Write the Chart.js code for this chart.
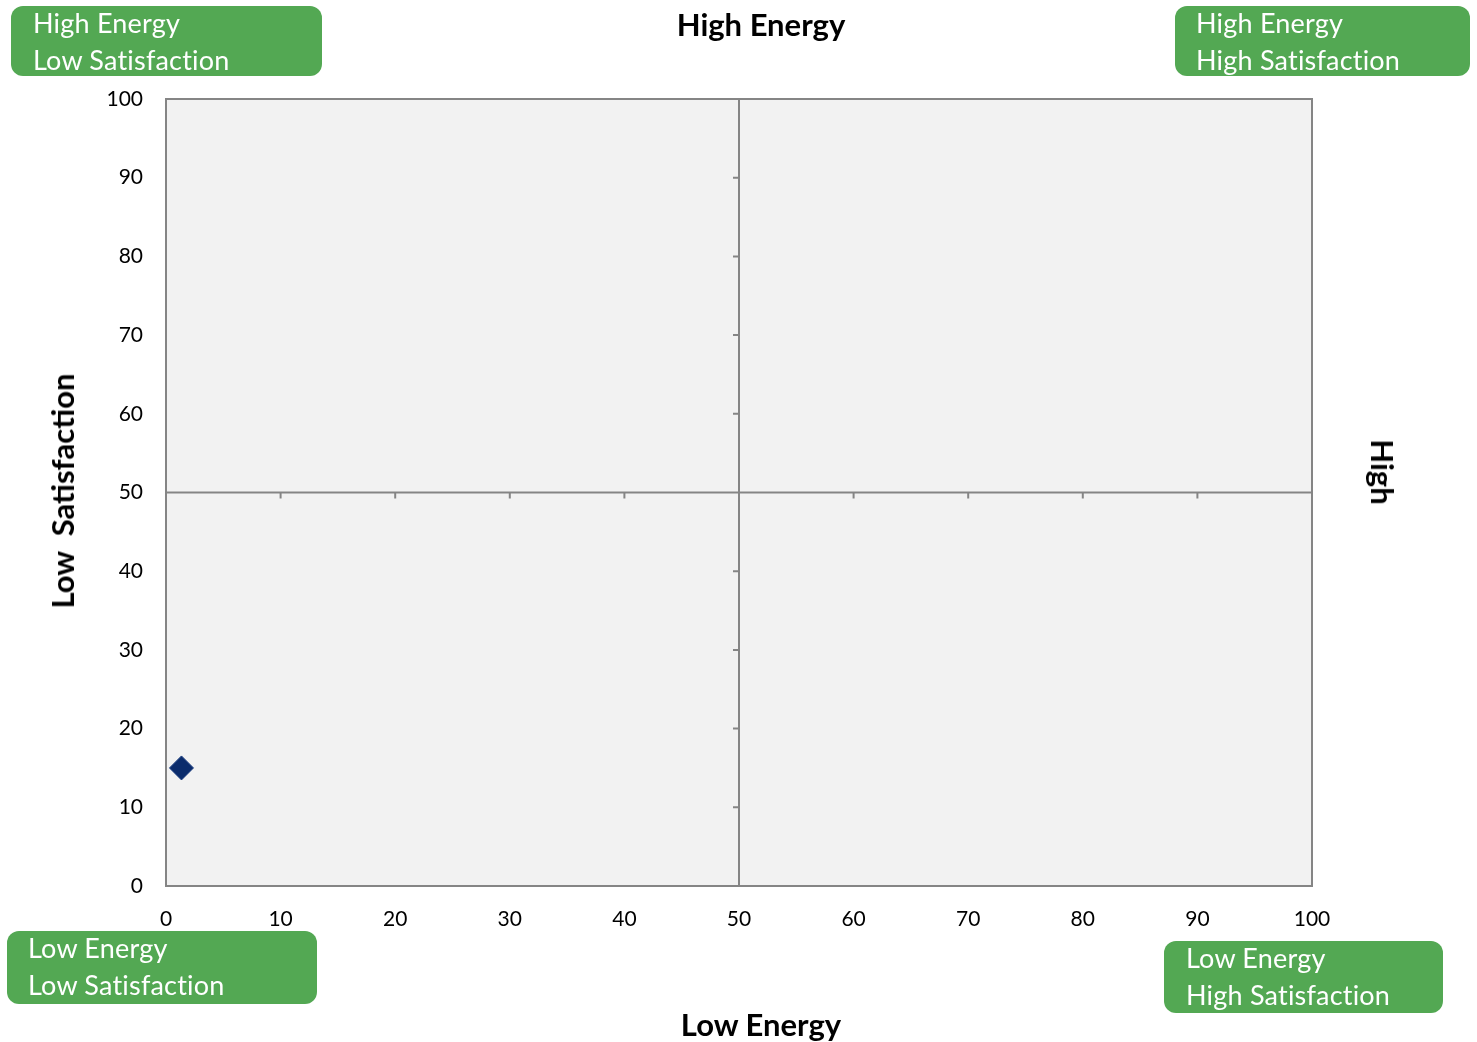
<!DOCTYPE html>
<html>
<head>
<meta charset="utf-8">
<script src="https://cdn.jsdelivr.net/npm/chart.js@4.4.1/dist/chart.umd.min.js"></script>
<style>
  body { margin: 0; background: #fff; }
  #wrap { position: relative; width: 1477px; height: 1042px; font-family: Lato, "Open Sans", sans-serif; }
  #wrap canvas { position: absolute; left: 0; top: 0; }
  .ttl { position: absolute; font-weight: bold; font-size: 31px; color: #000; white-space: pre; transform: translate(-50%, -50%); }
  .box { position: absolute; background: #53a853; border-radius: 12px; color: #fff; font-size: 27px; line-height: 37px; letter-spacing: 0.2px; box-sizing: border-box; white-space: nowrap; }
  .box span { position: relative; top: -2px; }
</style>
</head>
<body>
<div id="wrap">
  <canvas id="quadChart" width="1477" height="1042"></canvas>
</div>
<script>
// data
var pointNames = ['Response'];
var energyVals = [1.35];
var satisfactionVals = [15];
var axisMin = 0
var axisMax = 100
var tickStep = 10
var midValue = 50

var topTitle = 'High Energy'
var bottomTitle = 'Low Energy'
var leftTitle = 'Low  Satisfaction'
var rightTitle = 'High'
var quadrantLabels = [
    ['High Energy', 'Low Satisfaction'],
    ['High Energy', 'High Satisfaction'],
    ['Low Energy', 'Low Satisfaction'],
    ['Low Energy', 'High Satisfaction']
];

var wrap = document.getElementById('wrap')

// titles and green corner boxes (html overlays)
function addTitle(text, x, y, rot) {
    var d = document.createElement('div')
    d.className = 'ttl'
    d.textContent = text
    d.style.left = x + 'px'
    d.style.top = y + 'px'
    if (rot) d.style.transform = 'translate(-50%, -50%) rotate(' + rot + 'deg)'
    wrap.appendChild(d)
}
addTitle(topTitle, 761, 24, 0)
addTitle(bottomTitle, 761, 1024, 0)
addTitle(leftTitle, 62, 491, -90)
addTitle(rightTitle, 1383, 472, 90)

var boxPos = [
    {l: 11, t: 6, w: 311, h: 70, pl: 22},
    {l: 1175, t: 6, w: 295, h: 70, pl: 21},
    {l: 7, t: 931, w: 310, h: 73, pl: 21},
    {l: 1164, t: 941, w: 279, h: 72, pl: 22}
];
for (var i = 0; i < quadrantLabels.length; i++) {
    var b = document.createElement('div')
    b.className = 'box'
    b.style.left = boxPos[i].l + 'px'
    b.style.top = boxPos[i].t + 'px'
    b.style.width = boxPos[i].w + 'px'
    b.style.height = boxPos[i].h + 'px'
    b.style.paddingLeft = boxPos[i].pl + 'px'
    var s = document.createElement('span')
    s.innerHTML = quadrantLabels[i].join('<br>')
    b.appendChild(s)
    wrap.appendChild(b)
}

var points = []
for (var i = 0; i < energyVals.length; i++) {
    points.push({x: energyVals[i], y: satisfactionVals[i]})
}

// plot background, border and the crossing lines at 50
var quadPlugin = {
    id: 'quadPlugin',
    beforeDatasetsDraw: function (chart) {
        var ctx = chart.ctx
        var a = chart.chartArea
        var xs = chart.scales.x
        var ys = chart.scales.y
        ctx.save()
        ctx.fillStyle = '#f2f2f2'
        ctx.fillRect(a.left, a.top, a.right - a.left, a.bottom - a.top)
        ctx.strokeStyle = '#858585'
        ctx.lineWidth = 2
        ctx.strokeRect(a.left, a.top, a.right - a.left, a.bottom - a.top)
        var mx = xs.getPixelForValue(midValue)
        var my = ys.getPixelForValue(midValue)
        ctx.beginPath()
        ctx.moveTo(mx, a.top); ctx.lineTo(mx, a.bottom)
        ctx.moveTo(a.left, my); ctx.lineTo(a.right, my)
        for (var v = axisMin + tickStep; v < axisMax; v += tickStep) {
            var px = xs.getPixelForValue(v)
            ctx.moveTo(px, my); ctx.lineTo(px, my + 6)
            var py = ys.getPixelForValue(v)
            ctx.moveTo(mx, py); ctx.lineTo(mx - 6, py)
        }
        ctx.stroke()
        ctx.restore()
    }
}

var chart = document.getElementById('quadChart')
var quadChart = new Chart(chart, {
    type: 'scatter',
    data: {
        datasets: [{
            label: pointNames[0],
            data: points,
            pointStyle: 'rectRot',
            pointRadius: 12,
            pointHoverRadius: 12,
            backgroundColor: '#0b2c6c',
            borderColor: '#1a3d80',
            borderWidth: 1
        }]
    },
    options: {
        responsive: false,
        animation: false,
        layout: { padding: { top: 99, right: 165, left: 0, bottom: 0 } },
        scales: {
            x: {
                min: axisMin,
                max: axisMax,
                grid: { display: false, drawTicks: false },
                border: { display: false },
                ticks: { stepSize: tickStep, padding: 21, color: '#000', font: { family: 'Lato', size: 21 } },
                afterFit: function (scale) { scale.height = 156 }
            },
            y: {
                min: axisMin,
                max: axisMax,
                grid: { display: false, drawTicks: false },
                border: { display: false },
                ticks: { stepSize: tickStep, padding: 23, color: '#000', font: { family: 'Lato', size: 21 } },
                afterFit: function (scale) { scale.width = 166 }
            }
        },
        plugins: {
            legend: { display: false },
            tooltip: { enabled: false }
        }
    },
    plugins: [quadPlugin]
});
</script>
</body>
</html>
